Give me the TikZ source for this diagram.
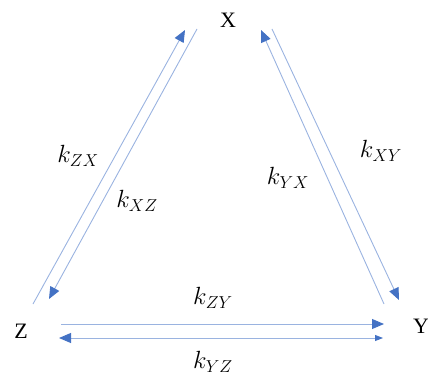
\documentclass[tikz,border=0pt]{standalone}
\usepackage{fontspec}
\setmainfont{Liberation Serif}
\usetikzlibrary{arrows.meta}
\definecolor{linkblue}{HTML}{9AB3E0}
\definecolor{tipblue}{HTML}{4472C4}
\tikzset{
  rate/.style={draw=linkblue,line width=0.9pt},
  bigtip/.tip={Triangle[length=12pt,width=10pt,color=tipblue]},
  smalltip/.tip={Triangle[length=8pt,width=6pt,color=tipblue]},
  species/.style={font=\fontsize{22}{26}\selectfont,inner sep=0pt},
  klabel/.style={font=\fontsize{23}{27}\selectfont,inner sep=0pt}
}
\begin{document}
\begin{tikzpicture}[x=1pt,y=-1pt]
	\useasboundingbox (0,0) rectangle (428,382);
	% species
	\node[species] (X) at (228,20) {X};
	\node[species] (Y) at (421,326) {Y};
	\node[species] (Z) at (21,331) {Z};
	% end points of the rate arrows
	\coordinate (zx0) at (33,304);
	\coordinate (zx1) at (185,30);
	\coordinate (xz0) at (197,29);
	\coordinate (xz1) at (49,299);
	\coordinate (yx0) at (384,304);
	\coordinate (yx1) at (261,30);
	\coordinate (xy0) at (272,29);
	\coordinate (xy1) at (399,300);
	\coordinate (zy0) at (61,324);
	\coordinate (zy1) at (384,324);
	\coordinate (yz0) at (383,338);
	\coordinate (yz1) at (59,338);
	% arrows
	\draw[rate,-bigtip] (zx0) -- (zx1);
	\draw[rate,-bigtip] (xz0) -- (xz1);
	\draw[rate,-bigtip] (yx0) -- (yx1);
	\draw[rate,-bigtip] (xy0) -- (xy1);
	\draw[rate,-bigtip] (zy0) -- (zy1);
	\draw[rate,smalltip-bigtip] (yz0) -- (yz1);
	% rate constants
	\node[klabel] (kzx) at (78,156) {$k_{ZX}$};
	\node[klabel] (kxz) at (137,201) {$k_{XZ}$};
	\node[klabel] (kyx) at (288,178) {$k_{YX}$};
	\node[klabel] (kxy) at (381,151) {$k_{XY}$};
	\node[klabel] (kzy) at (213,298) {$k_{ZY}$};
	\node[klabel] (kyz) at (213,362) {$k_{YZ}$};
\end{tikzpicture}
\end{document}
